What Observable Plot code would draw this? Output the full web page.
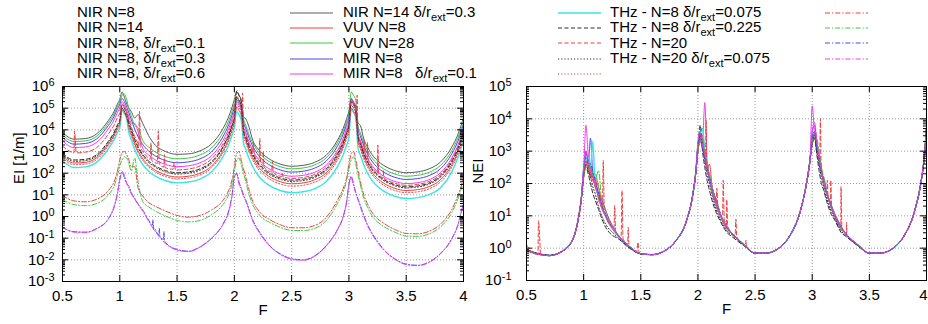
<!DOCTYPE html>
<html><head><meta charset="utf-8">
<script src="https://cdn.jsdelivr.net/npm/d3@7"></script>
<script src="https://cdn.jsdelivr.net/npm/@observablehq/plot@0.6"></script>
<style>
html,body{margin:0;padding:0;background:#fff;}
#wrap{width:928px;height:324px;position:relative;font-family:"Liberation Sans",Arial,Helvetica,sans-serif;color:#000;overflow:hidden;}
#legend{position:relative;width:928px;height:80px;}
.lt{position:absolute;font-size:15px;line-height:16px;white-space:pre;}
.lt sub{font-size:11px;vertical-align:-4px;line-height:0;}
.ls{position:absolute;overflow:visible;}
#plots{display:flex;height:244px;}
#plots svg{overflow:visible;}
</style></head><body>
<div id="wrap"><div id="legend"></div><div id="plots"></div></div>
<script>
// ---- x grid (F) shared by all series ----
const F = [0.5,0.6,0.7,0.8,0.9,0.95,0.98,1.0,1.02,1.04,1.06,1.08,1.1,1.13,1.16,1.2,1.25,1.3,1.4,1.5,1.6,1.7,1.8,1.9,1.95,1.98,2.0,
  2.02,2.04,2.06,2.08,2.1,2.13,2.16,2.2,2.25,2.3,2.4,2.5,2.6,2.7,2.8,2.9,2.95,2.98,3.0,
  3.02,3.04,3.06,3.08,3.1,3.13,3.16,3.2,3.25,3.3,3.4,3.5,3.6,3.7,3.8,3.9,3.95,3.98,4.0];

// ---- left panel: log10 of EI [1/m] ----
const EI_NIR_N8 = [3.88,3.57,3.6,3.82,4.43,4.85,5.2,5.4, 5.75,5.5,5.2,5.0,4.85,4.55,4.7,4.3,3.75,3.35,3.0,2.87, 2.89,3.03,3.35,4.05,4.6,5.05,5.4,
  5.75,5.6,5.35, 4.62,4.5,4.1,3.52,3.17,2.87,2.67,2.42,2.32,2.36,2.5,2.82,3.52,4.07,4.52,4.87,
  5.4,5.25,5.0, 4.32,4.2,3.57,3.22,2.87,2.57,2.37,2.12,2.02,2.06,2.2,2.52,3.22,3.77,4.22,4.57];
const EI_NIR_N14 = [2.78,2.47,2.5,2.72,3.33,3.75,4.1,4.3, 5.0,4.85,4.6, 4.12,3.82,3.37,3.02,2.67,2.37,2.17,1.92,1.82,1.86,2.0,2.32,3.02,3.57,4.02,4.37,
  5.05,4.9,4.65, 3.81,3.51,3.06,2.71,2.36,2.06,1.86,1.61,1.51,1.55,1.69,2.01,2.71,3.26,3.71,4.06,
  5.0,4.85,4.6, 3.5,3.2,2.75,2.4,2.05,1.75,1.55,1.3,1.2,1.24,1.38,1.7,2.4,2.95,3.4,3.75];
const EI_NIR_N8_d01 = [3.77,3.46,3.49,3.71,4.32,4.74,5.09,5.29, 5.6,5.65,5.4, 4.96,4.66,4.21,4.1,3.51,3.21,3.01,2.76,2.66,2.7,2.84,3.16,3.86,4.41,4.86,5.21,
  5.5,5.35,5.1, 4.5,4.2,3.75,3.4,3.05,2.75,2.55,2.3,2.2,2.24,2.38,2.7,3.4,3.95,4.4,4.75,
  5.75,5.6,5.35, 4.16,3.86,3.41,3.06,2.71,2.41,2.21,1.96,1.86,1.9,2.04,2.36,3.06,3.61,4.06,4.41];
const EI_NIR_N8_d03 = [3.65,3.34,3.37,3.59,4.2,4.62,4.97,5.17, 5.45,5.3,5.05, 4.78,4.48,4.03,3.68,3.33,3.03,2.83,2.58,2.48,2.52,2.66,2.98,3.68,4.23,4.68,5.03,
  5.4,5.25,5.0, 4.35,4.05,3.6,3.25,2.9,2.6,2.4,2.15,2.05,2.09,2.23,2.55,3.25,3.8,4.25,4.6,
  5.45,5.3,5.05, 4.01,3.71,3.26,2.91,2.56,2.26,2.06,1.81,1.71,1.75,1.89,2.21,2.91,3.46,3.91,4.26];
const EI_NIR_N8_d06 = [3.49,3.18,3.21,3.43,4.04,4.46,4.81,5.01, 5.3,5.15,4.9, 4.6,4.3,4.3,3.9,3.15,2.85,2.65,2.4,2.3,2.34,2.48,2.8,3.5,4.05,4.5,4.85,
  5.3,5.15,4.9, 4.16,3.86,3.41,3.06,2.71,2.41,2.21,1.96,1.86,1.9,2.04,2.36,3.06,3.61,4.06,4.41,
  5.3,5.15,4.9, 3.82,3.52,3.07,2.72,2.37,2.07,1.87,1.62,1.52,1.56,1.7,2.02,2.72,3.27,3.72,4.07];
const EI_NIR_N14_d03 = [2.57,2.26,2.29,2.51,3.12,3.54,3.89,4.09, 4.9,4.75,4.5, 3.85,3.55,3.1,2.75,2.4,2.1,1.9,1.65,1.55,1.59,1.73,2.05,2.75,3.3,3.75,4.1,
  4.85,4.7,4.45, 3.4,3.1,2.65,2.3,1.95,1.65,1.45,1.2,1.1,1.14,1.28,1.6,2.3,2.85,3.3,3.65,
  4.95,4.8,4.55, 3.13,2.83,2.38,2.03,1.68,1.38,1.18,0.93,0.83,0.87,1.01,1.33,2.08,2.7,3.15,3.55];
const EI_VUV_N8 = [2.92,2.61,2.64,2.86,3.47,3.89,4.24,4.44, 5.15,5.0,4.75, 4.32,4.02,3.57,3.22,2.87,2.57,2.37,2.12,2.02,2.06,2.2,2.52,3.22,3.77,4.22,4.57,
  5.8,5.6,5.3, 3.98,3.68,3.23,2.88,2.53,2.23,2.03,1.78,1.68,1.72,1.86,2.18,2.88,3.43,3.88,4.23,
  5.3,5.15,4.9, 3.67,3.37,2.92,2.57,2.22,1.92,1.72,1.47,1.37,1.41,1.55,1.87,2.57,3.12,3.57,3.92];
const EI_VUV_N28 = [3.25,2.94,2.97,3.19,3.8,4.22,4.57,4.77, 5.2,5.05,4.8, 4.45,4.15,3.7,3.35,3.0,2.7,2.5,2.25,2.15,2.19,2.33,2.65,3.35,3.9,4.35,4.7,
  5.55,5.4,5.15, 4.06,3.76,3.31,2.96,2.61,2.31,2.11,1.86,1.76,1.8,1.94,2.26,2.96,3.51,3.96,4.31,
  5.35,5.2,4.95, 3.74,3.44,2.99,2.64,2.29,1.99,1.79,1.54,1.44,1.48,1.62,1.94,2.64,3.19,3.64,3.99];
const EI_VUV_N28_spikes = [[0.59,2.95],[0.605,3.95],[0.62,2.94],
  [1.165,3.28],[1.172,4.85],[1.18,3.18],[1.265,2.64],[1.272,3.4],[1.28,2.58],[1.328,2.45],[1.336,3.95],[1.345,2.42],
  [1.385,2.28],[1.39,2.85],[1.397,2.26],[1.465,2.18],[1.475,2.5],[1.485,2.17],
  [2.065,4.9],[2.072,5.7],[2.078,4.2],[2.155,3.05],[2.165,3.4],[2.175,2.85],[2.215,2.5],[2.222,3.6],[2.23,2.45],
  [2.245,2.35],[2.252,3.0],[2.26,2.28],[2.325,2.05],[2.332,2.55],[2.34,2.02],[2.415,1.84],[2.42,2.0],[2.425,1.83],
  [3.065,4.7],[3.072,5.6],[3.078,3.8],[3.125,3.05],[3.132,3.55],[3.14,2.9],[3.155,2.7],[3.162,3.4],[3.17,2.58],
  [3.245,2.02],[3.252,3.3],[3.26,1.96],[3.295,1.8],[3.3,2.15],[3.305,1.78]];
const EI_MIR_N8 = [2.86,2.55,2.58,2.8,3.41,3.83,4.18,4.38, 5.0,4.85,4.6, 4.26,3.96,3.51,3.16,2.81,2.51,2.31,2.06,1.96,2.0,2.14,2.46,3.16,3.71,4.16,4.51,
  5.5,5.35,5.1, 3.92,3.62,3.17,2.82,2.47,2.17,1.97,1.72,1.62,1.66,1.8,2.12,2.82,3.37,3.82,4.17,
  5.15,5.0,4.75, 3.62,3.32,2.87,2.52,2.17,1.87,1.67,1.42,1.32,1.36,1.5,1.82,2.52,3.07,3.52,3.87];
const EI_MIR_N8_d01 = [2.7,2.39,2.42,2.64,3.25,3.67,4.02,4.22, 4.95,4.8,4.55, 4.04,3.74,3.29,2.94,2.59,2.29,2.09,1.84,1.74,1.78,1.92,2.24,2.94,3.49,3.94,4.29,
  5.2,5.05,4.8, 3.7,3.4,2.95,2.6,2.25,1.95,1.75,1.5,1.4,1.44,1.58,1.9,2.6,3.15,3.6,3.95,
  5.0,4.85,4.6, 3.4,3.1,2.65,2.3,1.95,1.65,1.45,1.2,1.1,1.14,1.28,1.6,2.3,2.85,3.3,3.65];
const EI_THz_N8_d0075 = [0.97,0.72,0.68,0.8,1.2,1.6,2.1,2.6, 2.95,3.0,2.85,2.6,2.3,2.3,1.3,0.95,0.65,0.5,0.25,0.05,-0.03,0.05,0.3,0.74,1.2,1.7,2.3,
  2.9,3.0,2.6,2.2,1.8,1.2,0.7,0.35,0.05,-0.12,-0.38,-0.52,-0.52,-0.42,-0.05,0.75,1.3,1.8,2.4,
  2.9,3.0,2.6,2.1,1.6,1.0,0.6,0.2,-0.1,-0.3,-0.6,-0.78,-0.8,-0.68,-0.35,0.35,0.95,1.4,1.75];
const EI_THz_N8_d0225 = [0.77,0.55,0.5,0.6,1.0,1.4,1.9,2.35, 2.6,2.75,2.7,2.4,2.1,2.7,1.6,0.7,0.45,0.28,0.02,-0.18,-0.25,-0.18,0.08,0.55,1.0,1.5,2.1,
  2.6,2.7,2.4,2.0,1.6,1.0,0.55,0.2,-0.1,-0.25,-0.5,-0.64,-0.65,-0.55,-0.2,0.6,1.15,1.65,2.2,
  2.6,2.75,2.4,1.9,1.45,0.85,0.45,0.05,-0.25,-0.45,-0.72,-0.9,-0.92,-0.8,-0.48,0.2,0.8,1.25,1.6];
const EI_THz_N20 = [-0.52,-0.7,-0.72,-0.55,-0.1,0.45,1.1,1.7, 2.05,1.8,1.5,1.4,1.1,0.85,0.58,0.3,-0.15,-0.55,-1.2,-1.52,-1.6,-1.4,-1.0,-0.35,0.25,1.0,1.8,
  2.0,1.6,1.3,1.0,0.75,0.3,-0.15,-0.55,-0.95,-1.3,-1.72,-1.95,-2.0,-1.82,-1.35,-0.6,0.0,0.7,1.5,
  1.85,1.5,1.1,0.8,0.5,0.05,-0.35,-0.75,-1.15,-1.5,-1.95,-2.2,-2.25,-2.1,-1.7,-1.0,-0.4,0.2,0.6];
const EI_THz_N20_spikes = [[1.285,-0.42],[1.29,-0.15],[1.295,-0.6],[1.34,-0.86],[1.345,-0.55],[1.35,-0.92],[1.38,-1.05],[1.385,-0.7],[1.39,-1.12]];
const EI_THz_N20_d0075 = [-0.5,-0.72,-0.74,-0.56,-0.12,0.42,1.05,1.75, 2.1,1.9,1.55,1.3,1.05,0.8,0.55,0.25,-0.2,-0.62,-1.25,-1.55,-1.62,-1.42,-1.02,-0.38,0.2,0.95,1.85,
  1.95,1.5,1.25,0.95,0.7,0.25,-0.2,-0.6,-1.0,-1.32,-1.75,-1.97,-2.02,-1.84,-1.38,-0.62,-0.02,0.65,1.45,
  1.8,1.45,1.05,0.75,0.45,0.0,-0.4,-0.8,-1.2,-1.52,-1.97,-2.22,-2.27,-2.12,-1.72,-1.02,-0.42,0.18,0.55];

// ---- right panel: log10 of NEI ----
const NEI_NIR_N8 = [-0.07,-0.18,-0.23,-0.12,0.24,0.85,1.55, 2.2,3.0,2.6,2.2,2.3,2.0,1.7,1.5,1.1,0.7, 0.4,0.05,-0.17,-0.2,-0.1,0.2,0.85,1.55,2.3,
  3.0,3.6,3.3,2.8,2.6,2.2,1.8,1.5,1.05,0.7, 0.45,0.12,-0.15,-0.15,-0.02,0.36,1.2,2.0,2.7,
  3.2,3.4,3.3,2.7,2.3,2.2,1.7,1.4,1.05,0.7, 0.42,0.1,-0.15,-0.15,-0.02,0.36,1.2,2.0,2.8,3.7];
const NEI_NIR_N14 = [-0.08,-0.19,-0.23,-0.12,0.24,0.85,1.55, 2.4,2.6,2.8,2.3,2.1,2.2,1.5,1.3,0.9,0.6, 0.38,0.04,-0.17,-0.2,-0.1,0.2,0.85,1.55,2.3,
  3.1,3.3,3.5,3.0,2.4,2.6,1.7,1.3,0.95,0.6, 0.44,0.12,-0.15,-0.15,-0.02,0.36,1.2,2.0,2.7,
  3.3,3.6,3.0,2.9,2.5,2.0,1.7,1.3,0.95,0.6, 0.42,0.1,-0.15,-0.15,-0.02,0.36,1.2,2.0,2.8,3.7];
const NEI_NIR_N8_d01 = [-0.06,-0.18,-0.23,-0.12,0.24,0.85,1.55, 2.3,2.6,2.7,2.5,2.3,2.3,1.9,1.3,0.95,0.65, 0.4,0.05,-0.17,-0.2,-0.1,0.2,0.85,1.55,2.3,
  3.0,3.3,3.1,3.0,2.5,2.3,1.8,1.4,1.0,0.65, 0.45,0.12,-0.15,-0.15,-0.02,0.36,1.2,2.0,2.7,
  3.4,3.4,3.1,2.9,2.5,2.0,1.7,1.35,1.0,0.65, 0.42,0.1,-0.15,-0.15,-0.02,0.36,1.2,2.0,2.8,3.7];
const NEI_NIR_N8_d03 = [-0.07,-0.18,-0.22,-0.12,0.24,0.85,1.55, 2.5,2.8,2.6,3.4,2.3,2.0,1.7,1.3,0.95,0.65, 0.4,0.05,-0.17,-0.2,-0.1,0.2,0.85,1.55,2.3,
  3.2,3.5,3.3,3.0,2.6,2.1,1.8,1.4,1.0,0.65, 0.45,0.12,-0.15,-0.15,-0.02,0.36,1.2,2.0,2.7,
  3.6,3.8,3.3,2.8,2.4,2.1,1.7,1.35,1.0,0.65, 0.42,0.1,-0.15,-0.15,-0.02,0.36,1.2,2.0,2.8,3.7];
const NEI_NIR_N8_d06 = [-0.07,-0.18,-0.23,-0.12,0.24,0.85,1.55, 2.4,3.8,2.9,2.5,2.2,1.9,1.6,1.2,0.95,0.65, 0.4,0.05,-0.17,-0.2,-0.1,0.2,0.85,1.55,2.3,
  3.2,3.5,3.3,4.5,2.7,2.2,1.7,1.4,1.0,0.65, 0.45,0.12,-0.15,-0.15,-0.02,0.36,1.2,2.0,2.7,
  4.4,3.6,3.3,2.8,2.4,2.1,1.65,1.35,1.0,0.65, 0.42,0.1,-0.15,-0.15,-0.02,0.36,1.2,2.0,2.8,3.7];
const NEI_NIR_N14_d03 = [-0.08,-0.19,-0.23,-0.12,0.24,0.85,1.55, 2.4,2.7,2.8,2.5,3.3,2.0,1.6,1.25,0.95,0.65, 0.4,0.05,-0.17,-0.2,-0.1,0.2,0.85,1.55,2.3,
  3.1,3.6,3.7,3.0,2.5,2.2,1.7,1.4,1.0,0.65, 0.45,0.12,-0.15,-0.15,-0.02,0.36,1.2,2.0,2.7,
  3.3,3.6,3.2,2.9,2.4,2.1,1.65,1.35,1.0,0.65, 0.42,0.1,-0.15,-0.15,-0.02,0.36,1.2,2.0,2.8,3.7];
const NEI_VUV_N8 = [-0.05,-0.16,-0.22,-0.12,0.22,0.82,1.5, 2.2,2.5,2.3,2.0,1.7,1.5,1.2,0.9,0.6,0.4, 0.3,0.0,-0.18,-0.2,-0.1,0.2,0.85,1.55,2.3,
  3.1,3.8,3.0,2.5,2.1,1.8,1.4,1.1,0.8,0.5, 0.35,0.08,-0.16,-0.15,-0.02,0.36,1.2,2.0,2.7,
  3.3,3.4,2.9,2.4,2.0,1.8,1.4,1.1,0.85,0.5, 0.35,0.07,-0.16,-0.15,-0.02,0.36,1.2,2.0,2.8,3.7];
const NEI_VUV_N28 = [0.1,-0.18,-0.23,-0.12,0.24,0.85,1.55, 2.2,2.6,2.4,2.3,2.1,1.9,1.6,1.25,0.95,0.65, 0.4,0.05,-0.17,-0.2,-0.1,0.2,0.85,1.55,2.3,
  3.0,3.4,3.2,2.9,2.5,2.2,1.7,1.4,1.0,0.65, 0.45,0.12,-0.15,-0.15,-0.02,0.36,1.2,2.0,2.7,
  3.3,3.5,3.1,2.8,2.4,2.1,1.65,1.35,1.0,0.65, 0.42,0.1,-0.15,-0.15,-0.02,0.36,1.2,2.0,2.8,3.7];
const NEI_VUV_N28_spikes = [[0.585,-0.19],[0.605,0.85],[0.625,-0.2],
  [1.165,1.35],[1.172,2.72],[1.18,1.2],[1.265,0.6],[1.272,1.32],[1.28,0.5],[1.328,0.35],[1.336,1.78],[1.345,0.3],
  [1.385,0.12],[1.39,0.64],[1.397,0.08],[1.465,-0.1],[1.475,0.18],[1.485,-0.13],
  [2.065,2.6],[2.072,3.95],[2.078,2.55],[2.155,1.5],[2.165,1.85],[2.175,1.3],[2.215,1.0],[2.222,2.1],[2.23,0.9],
  [2.245,0.75],[2.252,1.5],[2.26,0.7],[2.325,0.4],[2.332,0.9],[2.34,0.35],[2.415,0.1],[2.42,0.25],[2.425,0.07],
  [3.065,2.7],[3.072,4.0],[3.078,2.45],[3.125,1.7],[3.132,2.1],[3.14,1.55],[3.155,1.45],[3.162,2.1],[3.17,1.3],
  [3.245,0.7],[3.252,1.9],[3.26,0.62],[3.295,0.45],[3.3,0.8],[3.305,0.42]];
const NEI_MIR_N8 = [-0.05,-0.17,-0.22,-0.12,0.23,0.84,1.53, 2.3,2.6,2.4,2.2,1.9,1.7,1.3,1.0,0.7,0.5, 0.33,0.02,-0.18,-0.2,-0.1,0.2,0.85,1.55,2.3,
  3.0,3.5,3.1,2.7,2.3,2.0,1.55,1.2,0.85,0.55, 0.4,0.1,-0.16,-0.15,-0.02,0.36,1.2,2.0,2.7,
  3.2,3.5,3.0,2.6,2.2,1.9,1.5,1.2,0.9,0.55, 0.38,0.08,-0.16,-0.15,-0.02,0.36,1.2,2.0,2.8,3.7];
const NEI_MIR_N8_d01 = [-0.07,-0.18,-0.23,-0.12,0.24,0.85,1.55, 2.3,2.7,2.5,2.4,2.2,2.0,1.6,1.25,0.95,0.65, 0.4,0.05,-0.17,-0.2,-0.1,0.2,0.85,1.55,2.3,
  3.0,3.4,3.2,2.9,2.5,2.2,1.7,1.4,1.0,0.65, 0.45,0.12,-0.15,-0.15,-0.02,0.36,1.2,2.0,2.7,
  3.3,3.5,3.2,2.8,2.4,2.1,1.65,1.35,1.0,0.65, 0.42,0.1,-0.15,-0.15,-0.02,0.36,1.2,2.0,2.8,3.7];
const NEI_THz_N8_d0075 = [-0.07,-0.18,-0.23,-0.12,0.24,0.85,1.55, 2.3,2.6,2.5,2.5,2.2,2.1,1.9,1.4,1.0,0.7, 0.42,0.06,-0.17,-0.2,-0.1,0.2,0.85,1.55,2.3,
  3.0,3.5,3.4,2.9,2.5,2.2,1.8,1.4,1.0,0.65, 0.45,0.12,-0.15,-0.15,-0.02,0.36,1.2,2.0,2.7,
  3.3,3.6,3.3,2.8,2.4,2.1,1.7,1.35,1.0,0.65, 0.42,0.1,-0.15,-0.15,-0.02,0.36,1.2,2.0,2.8,3.7];
const NEI_THz_N8_d0225 = [-0.07,-0.18,-0.23,-0.12,0.24,0.85,1.55, 2.2,2.5,2.6,2.5,2.3,2.1,2.4,1.4,1.0,0.7, 0.42,0.06,-0.17,-0.2,-0.1,0.2,0.85,1.55,2.3,
  3.0,3.3,3.4,3.0,2.6,2.3,1.8,1.4,1.0,0.65, 0.45,0.12,-0.15,-0.15,-0.02,0.36,1.2,2.0,2.7,
  3.3,3.4,3.4,2.9,2.5,2.2,1.7,1.35,1.0,0.65, 0.42,0.1,-0.15,-0.15,-0.02,0.36,1.2,2.0,2.8,3.7];
const NEI_THz_N20 = [-0.07,-0.18,-0.23,-0.12,0.24,0.85,1.55, 2.4,2.9,2.7,2.6,2.4,2.1,1.7,1.3,0.95,0.65, 0.4,0.05,-0.17,-0.2,-0.1,0.2,0.85,1.55,2.3,
  3.2,3.5,3.1,2.8,2.5,2.2,1.7,1.4,1.0,0.65, 0.45,0.12,-0.15,-0.15,-0.02,0.36,1.2,2.0,2.7,
  3.4,3.6,3.1,2.8,2.4,2.1,1.65,1.35,1.0,0.65, 0.42,0.1,-0.15,-0.15,-0.02,0.36,1.2,2.0,2.8,3.7];
const NEI_THz_N20_d0075 = [-0.07,-0.18,-0.23,-0.12,0.24,0.85,1.55, 2.5,3.0,2.7,2.4,2.2,2.0,1.6,1.25,0.95,0.65, 0.4,0.05,-0.17,-0.2,-0.1,0.2,0.85,1.55,2.3,
  3.3,3.6,3.2,2.9,2.5,2.2,1.7,1.4,1.0,0.65, 0.45,0.12,-0.15,-0.15,-0.02,0.36,1.2,2.0,2.7,
  3.6,3.9,3.3,2.8,2.4,2.1,1.65,1.35,1.0,0.65, 0.42,0.1,-0.15,-0.15,-0.02,0.36,1.2,2.0,2.8,3.7];

// ---- labels and ticks ----
const seriesLabels = ["NIR N=8","NIR N=14","NIR N=8, δ/r_ext=0.1","NIR N=8, δ/r_ext=0.3","NIR N=8, δ/r_ext=0.6",
  "NIR N=14 δ/r_ext=0.3","VUV N=8","VUV N=28","MIR N=8","MIR N=8   δ/r_ext=0.1",
  "THz - N=8 δ/r_ext=0.075","THz - N=8 δ/r_ext=0.225","THz - N=20","THz - N=20 δ/r_ext=0.075"];
const xTicks = [0.5,1,1.5,2,2.5,3,3.5,4];
const yTicksLeft = [1e-3,1e-2,1e-1,1,10,100,1e3,1e4,1e5,1e6];
const yTicksRight = [1e-1,1,10,100,1e3,1e4,1e5];

// ---- styles (not data) ----
const C = {gray:"#5a5a5a", red:"#f03c3c", green:"#3cc83c", blue:"#4646f5", mag:"#f03cf0", cyan:"#3ce4e4", black:"#2a2a2a"};
const DASH = "4,2.5", DOT = "1.2,2", DASHDOT = "5,2,1.2,2";
const series = [
  {ei:EI_NIR_N8, nei:NEI_NIR_N8, color:C.gray},
  {ei:EI_NIR_N14, nei:NEI_NIR_N14, color:C.red},
  {ei:EI_NIR_N8_d01, nei:NEI_NIR_N8_d01, color:C.green},
  {ei:EI_NIR_N8_d03, nei:NEI_NIR_N8_d03, color:C.blue},
  {ei:EI_NIR_N8_d06, nei:NEI_NIR_N8_d06, color:C.mag},
  {ei:EI_NIR_N14_d03, nei:NEI_NIR_N14_d03, color:C.cyan, width:1.4},
  {ei:EI_VUV_N8, nei:NEI_VUV_N8, color:C.black, dash:DASH},
  {ei:EI_VUV_N28, nei:NEI_VUV_N28, color:C.red, dash:DASH, eiSpikes:EI_VUV_N28_spikes, neiSpikes:NEI_VUV_N28_spikes},
  {ei:EI_MIR_N8, nei:NEI_MIR_N8, color:C.black, dash:DOT},
  {ei:EI_MIR_N8_d01, nei:NEI_MIR_N8_d01, color:C.red, dash:DOT},
  {ei:EI_THz_N8_d0075, nei:NEI_THz_N8_d0075, color:C.red, dash:DASHDOT},
  {ei:EI_THz_N8_d0225, nei:NEI_THz_N8_d0225, color:C.green, dash:DASHDOT},
  {ei:EI_THz_N20, nei:NEI_THz_N20, color:C.blue, dash:DASHDOT, eiSpikes:EI_THz_N20_spikes},
  {ei:EI_THz_N20_d0075, nei:NEI_THz_N20_d0075, color:C.mag, dash:DASHDOT}
].map((s, i) => ({...s, label: seriesLabels[i]}));

// ---- legend ----
const legendEl = document.getElementById("legend");
const colText = [77, 343, 610], colSample = [290, 558, 825];
series.forEach((s, i) => {
  const col = i < 5 ? 0 : i < 10 ? 1 : 2;
  const row = i < 5 ? i : i < 10 ? i - 5 : i - 10;
  const cy = 12.5 + 15.35 * row;
  const t = document.createElement("div");
  t.className = "lt";
  t.style.left = colText[col] + "px";
  t.style.top = (cy - 8.5) + "px";
  t.innerHTML = s.label.replace("_ext", "<sub>ext</sub>");
  legendEl.appendChild(t);
  const ns = "http://www.w3.org/2000/svg";
  const sv = document.createElementNS(ns, "svg");
  sv.setAttribute("class", "ls");
  sv.setAttribute("width", 44); sv.setAttribute("height", 6);
  sv.style.left = colSample[col] + "px"; sv.style.top = (cy - 3) + "px";
  const ln = document.createElementNS(ns, "line");
  ln.setAttribute("x1", 0); ln.setAttribute("x2", 43); ln.setAttribute("y1", 3); ln.setAttribute("y2", 3);
  ln.setAttribute("stroke", s.color); ln.setAttribute("stroke-width", s.width || 1);
  if (s.dash) ln.setAttribute("stroke-dasharray", s.dash);
  sv.appendChild(ln);
  legendEl.appendChild(sv);
});

// ---- panels ----
function minorTicks(dom) {
  const out = [];
  for (let e = Math.round(Math.log10(dom[0])); e < Math.round(Math.log10(dom[1])); e++)
    for (let k = 2; k <= 9; k++) out.push(k * Math.pow(10, e));
  return out;
}
function panel(o) {
  const H = 244;
  const fw = o.width - o.ml - o.mr, fh = H - o.mt - o.mb;
  const gridStyle = {stroke:"#9a9a9a", strokeOpacity:1, strokeDasharray:"1,2"};
  const marks = [
    Plot.gridX(xTicks, gridStyle),
    Plot.gridY(o.yTicks, gridStyle)
  ];
  series.forEach(s => {
    const rows = F.map((f, i) => ({F: f, v: s[o.key][i]}));
    (s[o.key + "Spikes"] || []).forEach(([f, v]) => rows.push({F: f, v}));
    rows.sort((a, b) => a.F - b.F);
    marks.push(Plot.line(rows, {x: "F", y: d => Math.pow(10, d.v), stroke: s.color,
      strokeWidth: s.width || 1, strokeDasharray: s.dash, curve: "monotone-x", clip: true}));
  });
  const yMinor = minorTicks(o.yDomain);
  marks.push(
    Plot.frame({stroke:"#000"}),
    Plot.ruleY(o.yTicks, {insetRight: fw - 6, stroke:"#000"}),
    Plot.ruleY(o.yTicks, {insetLeft: fw - 6, stroke:"#000"}),
    Plot.ruleY(yMinor, {insetRight: fw - 3, stroke:"#000"}),
    Plot.ruleY(yMinor, {insetLeft: fw - 3, stroke:"#000"}),
    Plot.ruleX(xTicks, {insetTop: fh - 6, stroke:"#000"}),
    Plot.ruleX(xTicks, {insetBottom: fh - 6, stroke:"#000"}),
    Plot.axisX(xTicks, {tickSize: 0, tickPadding: 9, fontSize: 15, tickFormat: d => String(d), label: null}),
    Plot.axisY(o.yTicks, {tickSize: 0, tickPadding: o.pad, fontSize: 15, tickFormat: d => String(Math.round(Math.log10(d))), label: null}),
    Plot.text(["F"], {frameAnchor: "bottom", dy: 33, fontSize: 15}),
    Plot.text([o.ylabel], {frameAnchor: "left", dx: o.ylabelDx, rotate: -90, fontSize: 15})
  );
  const svg = Plot.plot({
    width: o.width, height: H,
    marginLeft: o.ml, marginRight: o.mr, marginTop: o.mt, marginBottom: o.mb,
    x: {domain: [0.5, 4]},
    y: {type: "log", domain: o.yDomain},
    style: {fontFamily: '"Liberation Sans", Arial, Helvetica, sans-serif', fontSize: "15px", color: "#000", background: "transparent", overflow: "visible"},
    marks
  });
  d3.select(svg).selectAll('g[aria-label="y-axis tick label"] text').each(function() {
    const e = this.textContent;
    const t = d3.select(this);
    t.text(null);
    t.append("tspan").text("10");
    t.append("tspan").attr("dy", "-0.45em").attr("font-size", "11px").text(e);
  });
  if (o.lastLabelShift) {
    d3.select(svg).selectAll('g[aria-label="x-axis tick label"] text')
      .filter(function() { return this.textContent === "4"; })
      .attr("dx", o.lastLabelShift);
  }
  return svg;
}
const plots = document.getElementById("plots");
plots.appendChild(panel({key: "ei", width: 470, ml: 62, mr: 7, mt: 6, mb: 43, yDomain: [1e-3, 1e6], yTicks: yTicksLeft, pad: 8, ylabel: "EI [1/m]", ylabelDx: -43}));
plots.appendChild(panel({key: "nei", width: 458, ml: 56, mr: 2, mt: 6, mb: 44, yDomain: [1e-1, 1e5], yTicks: yTicksRight, pad: 15, ylabel: "NEI", ylabelDx: -48, lastLabelShift: -3}));
</script>
</body></html>
